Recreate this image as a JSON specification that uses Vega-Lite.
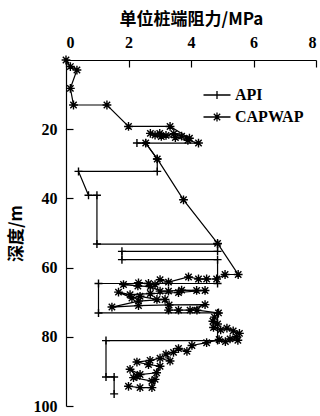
{
  "$schema": "https://vega.github.io/schema/vega-lite/v6.json",
  "autosize": {"type": "none"},
  "width": 250,
  "height": 346,
  "padding": {"left": 66, "top": 60, "right": 4, "bottom": 10},
  "background": "white",
  "config": {
    "view": {"stroke": null},
    "axis": {
      "grid": false,
      "domainColor": "black",
      "domainWidth": 1.2,
      "tickColor": "black",
      "tickWidth": 1.2,
      "labelColor": "black",
      "titleColor": "black",
      "labelFont": "Liberation Serif",
      "labelFontSize": 16,
      "labelFontWeight": "bold",
      "titleFont": "Noto Sans CJK SC",
      "titleFontSize": 17,
      "titleFontWeight": "bold"
    }
  },
  "data": {
    "values": [
      {"s": "API", "i": 1, "q": 2.27, "d": 24.0},
      {"s": "API", "i": 2, "q": 2.55, "d": 24.0},
      {"s": "API", "i": 3, "q": 2.92, "d": 28.6},
      {"s": "API", "i": 4, "q": 2.92, "d": 32.2},
      {"s": "API", "i": 5, "q": 0.40, "d": 32.2},
      {"s": "API", "i": 6, "q": 0.72, "d": 39.1},
      {"s": "API", "i": 7, "q": 0.99, "d": 39.1},
      {"s": "API", "i": 8, "q": 0.99, "d": 53.2},
      {"s": "API", "i": 9, "q": 4.85, "d": 53.2},
      {"s": "API", "i": 10, "q": 4.85, "d": 55.3},
      {"s": "API", "i": 11, "q": 1.79, "d": 55.3},
      {"s": "API", "i": 12, "q": 1.79, "d": 57.7},
      {"s": "API", "i": 13, "q": 4.85, "d": 57.7},
      {"s": "API", "i": 14, "q": 4.85, "d": 64.6},
      {"s": "API", "i": 15, "q": 1.04, "d": 64.6},
      {"s": "API", "i": 16, "q": 1.04, "d": 73.1},
      {"s": "API", "i": 17, "q": 4.85, "d": 73.1},
      {"s": "API", "i": 18, "q": 4.85, "d": 81.1},
      {"s": "API", "i": 19, "q": 1.28, "d": 81.1},
      {"s": "API", "i": 20, "q": 1.28, "d": 91.6},
      {"s": "API", "i": 21, "q": 1.54, "d": 91.6},
      {"s": "API", "i": 22, "q": 1.54, "d": 96.5},

      {"s": "CAPWAP", "i": 1, "q": 0.00, "d": 0.0},
      {"s": "CAPWAP", "i": 2, "q": 0.14, "d": 1.9},
      {"s": "CAPWAP", "i": 3, "q": 0.35, "d": 2.9},
      {"s": "CAPWAP", "i": 4, "q": 0.14, "d": 8.2},
      {"s": "CAPWAP", "i": 5, "q": 0.24, "d": 13.0},
      {"s": "CAPWAP", "i": 6, "q": 1.31, "d": 13.0},
      {"s": "CAPWAP", "i": 7, "q": 2.00, "d": 19.2},
      {"s": "CAPWAP", "i": 8, "q": 3.33, "d": 19.2},
      {"s": "CAPWAP", "i": 9, "q": 3.95, "d": 22.6},
      {"s": "CAPWAP", "i": 10, "q": 3.70, "d": 22.0},
      {"s": "CAPWAP", "i": 11, "q": 3.45, "d": 21.3},
      {"s": "CAPWAP", "i": 12, "q": 3.20, "d": 21.8},
      {"s": "CAPWAP", "i": 13, "q": 3.00, "d": 21.2},
      {"s": "CAPWAP", "i": 14, "q": 2.85, "d": 21.7},
      {"s": "CAPWAP", "i": 15, "q": 2.70, "d": 21.2},
      {"s": "CAPWAP", "i": 16, "q": 3.05, "d": 22.1},
      {"s": "CAPWAP", "i": 17, "q": 3.50, "d": 22.4},
      {"s": "CAPWAP", "i": 18, "q": 3.90, "d": 23.2},
      {"s": "CAPWAP", "i": 19, "q": 4.24, "d": 24.0},
      {"s": "CAPWAP", "i": 20, "q": 2.55, "d": 24.0},
      {"s": "CAPWAP", "i": 21, "q": 2.92, "d": 28.6},
      {"s": "CAPWAP", "i": 22, "q": 3.76, "d": 40.4},
      {"s": "CAPWAP", "i": 23, "q": 4.85, "d": 53.0},
      {"s": "CAPWAP", "i": 24, "q": 5.51, "d": 62.0},
      {"s": "CAPWAP", "i": 25, "q": 5.09, "d": 62.0},
      {"s": "CAPWAP", "i": 26, "q": 4.82, "d": 63.3},
      {"s": "CAPWAP", "i": 27, "q": 4.50, "d": 63.3},
      {"s": "CAPWAP", "i": 28, "q": 4.24, "d": 63.3},
      {"s": "CAPWAP", "i": 29, "q": 3.92, "d": 62.7},
      {"s": "CAPWAP", "i": 30, "q": 3.28, "d": 64.2},
      {"s": "CAPWAP", "i": 31, "q": 3.01, "d": 63.5},
      {"s": "CAPWAP", "i": 32, "q": 2.85, "d": 64.9},
      {"s": "CAPWAP", "i": 33, "q": 2.64, "d": 64.6},
      {"s": "CAPWAP", "i": 34, "q": 2.32, "d": 64.4},
      {"s": "CAPWAP", "i": 35, "q": 1.84, "d": 64.9},
      {"s": "CAPWAP", "i": 36, "q": 2.30, "d": 65.3},
      {"s": "CAPWAP", "i": 37, "q": 2.70, "d": 65.5},
      {"s": "CAPWAP", "i": 38, "q": 3.01, "d": 66.8},
      {"s": "CAPWAP", "i": 39, "q": 3.28, "d": 66.8},
      {"s": "CAPWAP", "i": 40, "q": 3.70, "d": 66.5},
      {"s": "CAPWAP", "i": 41, "q": 4.18, "d": 66.6},
      {"s": "CAPWAP", "i": 42, "q": 4.45, "d": 66.6},
      {"s": "CAPWAP", "i": 43, "q": 3.60, "d": 67.2},
      {"s": "CAPWAP", "i": 44, "q": 2.70, "d": 67.5},
      {"s": "CAPWAP", "i": 45, "q": 2.05, "d": 67.8},
      {"s": "CAPWAP", "i": 46, "q": 1.68, "d": 67.1},
      {"s": "CAPWAP", "i": 47, "q": 2.11, "d": 68.8},
      {"s": "CAPWAP", "i": 48, "q": 2.37, "d": 68.3},
      {"s": "CAPWAP", "i": 49, "q": 2.91, "d": 69.2},
      {"s": "CAPWAP", "i": 50, "q": 3.17, "d": 69.2},
      {"s": "CAPWAP", "i": 51, "q": 2.32, "d": 69.7},
      {"s": "CAPWAP", "i": 52, "q": 1.47, "d": 71.4},
      {"s": "CAPWAP", "i": 53, "q": 2.32, "d": 71.0},
      {"s": "CAPWAP", "i": 54, "q": 3.30, "d": 70.8},
      {"s": "CAPWAP", "i": 55, "q": 4.45, "d": 70.7},
      {"s": "CAPWAP", "i": 56, "q": 3.97, "d": 72.3},
      {"s": "CAPWAP", "i": 57, "q": 3.28, "d": 72.3},
      {"s": "CAPWAP", "i": 58, "q": 3.60, "d": 72.3},
      {"s": "CAPWAP", "i": 59, "q": 4.19, "d": 72.3},
      {"s": "CAPWAP", "i": 60, "q": 4.88, "d": 73.1},
      {"s": "CAPWAP", "i": 61, "q": 4.75, "d": 74.3},
      {"s": "CAPWAP", "i": 62, "q": 4.70, "d": 75.5},
      {"s": "CAPWAP", "i": 63, "q": 4.85, "d": 76.3},
      {"s": "CAPWAP", "i": 64, "q": 4.72, "d": 77.3},
      {"s": "CAPWAP", "i": 65, "q": 4.95, "d": 78.0},
      {"s": "CAPWAP", "i": 66, "q": 5.15, "d": 77.5},
      {"s": "CAPWAP", "i": 67, "q": 5.35, "d": 78.3},
      {"s": "CAPWAP", "i": 68, "q": 5.55, "d": 79.0},
      {"s": "CAPWAP", "i": 69, "q": 5.45, "d": 80.0},
      {"s": "CAPWAP", "i": 70, "q": 5.25, "d": 80.6},
      {"s": "CAPWAP", "i": 71, "q": 5.50, "d": 81.0},
      {"s": "CAPWAP", "i": 72, "q": 5.10, "d": 81.4},
      {"s": "CAPWAP", "i": 73, "q": 4.90, "d": 80.8},
      {"s": "CAPWAP", "i": 74, "q": 4.50, "d": 81.7},
      {"s": "CAPWAP", "i": 75, "q": 4.03, "d": 82.5},
      {"s": "CAPWAP", "i": 76, "q": 3.87, "d": 84.2},
      {"s": "CAPWAP", "i": 77, "q": 3.60, "d": 83.4},
      {"s": "CAPWAP", "i": 78, "q": 3.44, "d": 84.5},
      {"s": "CAPWAP", "i": 79, "q": 3.20, "d": 85.0},
      {"s": "CAPWAP", "i": 80, "q": 3.33, "d": 87.0},
      {"s": "CAPWAP", "i": 81, "q": 3.01, "d": 86.2},
      {"s": "CAPWAP", "i": 82, "q": 2.69, "d": 86.8},
      {"s": "CAPWAP", "i": 83, "q": 2.27, "d": 87.3},
      {"s": "CAPWAP", "i": 84, "q": 2.64, "d": 88.0},
      {"s": "CAPWAP", "i": 85, "q": 3.01, "d": 88.5},
      {"s": "CAPWAP", "i": 86, "q": 2.90, "d": 90.4},
      {"s": "CAPWAP", "i": 87, "q": 2.37, "d": 90.9},
      {"s": "CAPWAP", "i": 88, "q": 2.05, "d": 89.4},
      {"s": "CAPWAP", "i": 89, "q": 2.27, "d": 91.4},
      {"s": "CAPWAP", "i": 90, "q": 2.16, "d": 91.8},
      {"s": "CAPWAP", "i": 91, "q": 2.75, "d": 92.8},
      {"s": "CAPWAP", "i": 92, "q": 2.85, "d": 92.3},
      {"s": "CAPWAP", "i": 93, "q": 2.75, "d": 94.7},
      {"s": "CAPWAP", "i": 94, "q": 2.37, "d": 94.7},
      {"s": "CAPWAP", "i": 95, "q": 2.00, "d": 94.3}
    ]
  },
  "encoding": {
    "x": {
      "field": "q",
      "type": "quantitative",
      "scale": {"domain": [0, 8], "nice": false, "zero": false},
      "axis": {
        "orient": "top",
        "values": [0, 2, 4, 6, 8],
        "tickSize": -7,
        "labelPadding": 17,
        "title": "单位桩端阻力/MPa",
        "titlePadding": 6
      }
    },
    "y": {
      "field": "d",
      "type": "quantitative",
      "scale": {"domain": [0, 100], "reverse": true, "nice": false, "zero": false},
      "axis": {
        "orient": "left",
        "values": [20, 40, 60, 80, 100],
        "tickSize": -7,
        "labelPadding": 16,
        "title": "深度/m",
        "titlePadding": 8
      }
    }
  },
  "resolve": {"scale": {"shape": "independent"}, "legend": {"shape": "independent"}},
  "layer": [
    {
      "mark": {"type": "line", "color": "black", "strokeWidth": 1.2},
      "encoding": {
        "detail": {"field": "s", "type": "nominal"},
        "order": {"field": "i", "type": "quantitative"}
      }
    },
    {
      "mark": {"type": "point", "filled": false, "color": "black", "strokeWidth": 1.4, "size": 64, "opacity": 1},
      "encoding": {
        "shape": {
          "field": "s",
          "type": "nominal",
          "scale": {
            "domain": ["API", "CAPWAP"],
            "range": [
              "M-1,0H1M0,-1V1",
              "M-1.1,0H1.1M0,-1.1V1.1M-0.8,-0.8L0.8,0.8M-0.8,0.8L0.8,-0.8"
            ]
          },
          "legend": null
        }
      }
    },
    {
      "transform": [{"filter": "datum.i < 0"}],
      "mark": {"type": "point", "filled": false, "color": "black", "strokeWidth": 1.4, "size": 400, "opacity": 1},
      "encoding": {
        "shape": {
          "field": "s",
          "type": "nominal",
          "scale": {
            "domain": ["API", "CAPWAP"],
            "range": [
              "M-1.35,0H1.35M0,-0.4V0.4",
              "M-1.35,0H1.35M-0.45,0H0.45M0,-0.45V0.45M-0.32,-0.32L0.32,0.32M-0.32,0.32L0.32,-0.32"
            ]
          },
          "legend": {
            "orient": "none",
            "legendX": 140,
            "legendY": 24,
            "title": null,
            "padding": 0,
            "symbolSize": 400,
            "symbolStrokeWidth": 1.3,
            "symbolStrokeColor": "black",
            "symbolFillColor": "transparent",
            "labelFont": "Liberation Serif",
            "labelFontSize": 16,
            "labelFontWeight": "bold",
            "labelColor": "black",
            "labelOffset": 7,
            "rowPadding": 3
          }
        }
      }
    }
  ]
}
